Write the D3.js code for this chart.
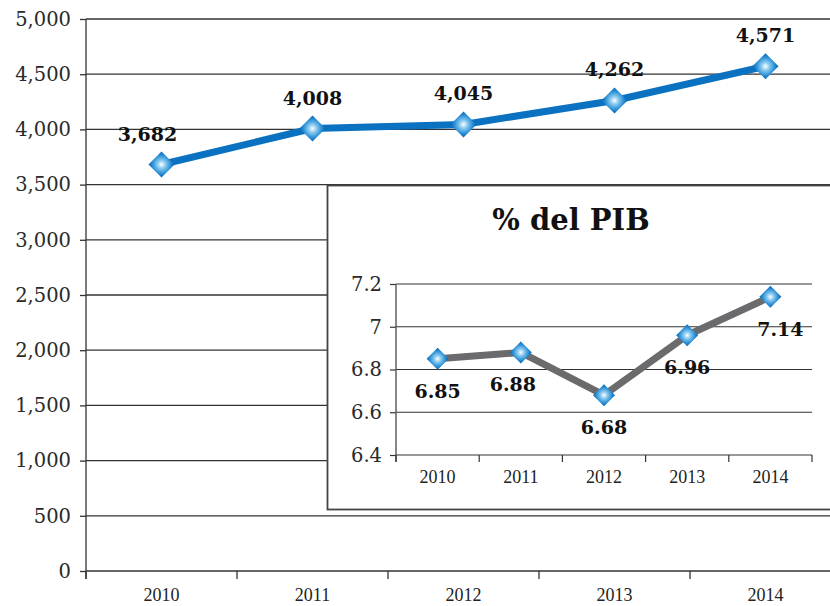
<!DOCTYPE html>
<html>
<head>
<meta charset="utf-8">
<script src="https://cdn.jsdelivr.net/npm/d3@7"></script>
<style>
  body { margin: 0; background: #fff; }
  svg { display: block; }
</style>
</head>
<body>
<div id="chart"></div>
<script>
// values
const years = ['2010', '2011', '2012', '2013', '2014'];
const amounts = [3682, 4008, 4045, 4262, 4571];
const pib = [6.85, 6.88, 6.68, 6.96, 7.14];
const mainTicks = [0, 500, 1000, 1500, 2000, 2500, 3000, 3500, 4000, 4500, 5000];
const insetTicks = [6.4, 6.6, 6.8, 7, 7.2];
const insetTitle = '% del PIB';

const width = 830, height = 606;
const serif = '"DejaVu Serif", "Liberation Serif", serif';
const timesish = '"Liberation Serif", serif';

const svg = d3.select('#chart').append('svg')
  .attr('width', width)
  .attr('height', height);

// gradient used for the diamond markers
const grad = svg.append('defs').append('radialGradient')
  .attr('id', 'gem')
  .attr('cx', '50%').attr('cy', '50%').attr('r', '50%');
grad.append('stop').attr('offset', '0%').attr('stop-color', '#ffffff');
grad.append('stop').attr('offset', '30%').attr('stop-color', '#8ccbf0');
grad.append('stop').attr('offset', '70%').attr('stop-color', '#2a8fd6');
grad.append('stop').attr('offset', '100%').attr('stop-color', '#0a63b0');

function diamond(r) {
  return `M0,${-r}L${r},0L0,${r}L${-r},0Z`;
}

// ---------- main chart ----------
const x = d3.scaleBand().domain(years).range([86, 841]);
const y = d3.scaleLinear().domain([0, 5000]).range([571, 19]);

const main = svg.append('g');

// gridlines
main.selectAll('line.grid')
  .data(mainTicks)
  .enter().append('line')
  .attr('x1', 86).attr('x2', width)
  .attr('y1', d => y(d)).attr('y2', d => y(d))
  .attr('stroke', '#333').attr('stroke-width', 1.3);

// y axis
const yAxis = main.append('g')
  .attr('transform', 'translate(86,0)')
  .call(d3.axisLeft(y).tickValues(mainTicks).tickFormat(d3.format(',')).tickSize(6).tickPadding(9));
yAxis.select('.domain').remove();
yAxis.selectAll('line').attr('stroke', '#333').attr('stroke-width', 1.3);
yAxis.selectAll('text')
  .attr('font-family', serif).attr('font-size', 19.5).attr('fill', '#2a2a2a');

main.append('line')
  .attr('x1', 86).attr('x2', 86).attr('y1', 19).attr('y2', 579)
  .attr('stroke', '#333').attr('stroke-width', 1.3);

// x axis ticks at band boundaries
main.selectAll('line.xtick')
  .data(years)
  .enter().append('line')
  .attr('x1', d => x(d)).attr('x2', d => x(d))
  .attr('y1', 571).attr('y2', 579)
  .attr('stroke', '#333').attr('stroke-width', 1.3);

main.selectAll('text.xlab')
  .data(years)
  .enter().append('text')
  .attr('x', d => x(d) + x.bandwidth() / 2)
  .attr('y', 601)
  .attr('text-anchor', 'middle')
  .attr('font-family', timesish).attr('font-size', 18).attr('fill', '#222')
  .text(d => d);

const mainLine = d3.line()
  .x((d, i) => x(years[i]) + x.bandwidth() / 2)
  .y(d => y(d));

main.append('path')
  .datum(amounts)
  .attr('d', mainLine)
  .attr('fill', 'none')
  .attr('stroke', '#0a72c0')
  .attr('stroke-width', 7)
  .attr('stroke-linejoin', 'round');

main.selectAll('path.mk')
  .data(amounts)
  .enter().append('path')
  .attr('d', diamond(13))
  .attr('transform', (d, i) => `translate(${x(years[i]) + x.bandwidth() / 2},${y(d)})`)
  .attr('fill', 'url(#gem)');

main.selectAll('text.val')
  .data(amounts)
  .enter().append('text')
  .attr('x', (d, i) => x(years[i]) + x.bandwidth() / 2 - (i === 0 ? 14 : 0))
  .attr('y', d => y(d) - 24)
  .attr('text-anchor', 'middle')
  .attr('font-family', serif).attr('font-weight', 'bold').attr('font-size', 19).attr('fill', '#111')
  .text(d => d3.format(',')(d));

// ---------- inset chart ----------
const inset = svg.append('g');

inset.append('rect')
  .attr('x', 327.5).attr('y', 185.5)
  .attr('width', 520).attr('height', 324)
  .attr('fill', '#fff')
  .attr('stroke', '#444').attr('stroke-width', 1.8);

inset.append('text')
  .attr('x', 571).attr('y', 230)
  .attr('text-anchor', 'middle')
  .attr('font-family', serif).attr('font-weight', 'bold').attr('font-size', 29).attr('fill', '#111')
  .text(insetTitle);

const xi = d3.scaleBand().domain(years).range([396, 812]);
const yi = d3.scaleLinear().domain([6.4, 7.2]).range([455, 284]);

inset.selectAll('line.grid')
  .data(insetTicks)
  .enter().append('line')
  .attr('x1', 396).attr('x2', 812)
  .attr('y1', d => yi(d)).attr('y2', d => yi(d))
  .attr('stroke', '#333').attr('stroke-width', 1.2);

const yiAxis = inset.append('g')
  .attr('transform', 'translate(396,0)')
  .call(d3.axisLeft(yi).tickValues(insetTicks).tickFormat(d3.format('')).tickSize(6).tickPadding(8));
yiAxis.select('.domain').remove();
yiAxis.selectAll('line').attr('stroke', '#333').attr('stroke-width', 1.2);
yiAxis.selectAll('text')
  .attr('font-family', serif).attr('font-size', 19.5).attr('fill', '#2a2a2a');

inset.append('line')
  .attr('x1', 396).attr('x2', 396).attr('y1', 284).attr('y2', 462)
  .attr('stroke', '#555').attr('stroke-width', 1.4);

inset.selectAll('line.xtick')
  .data(years.concat(['end']))
  .enter().append('line')
  .attr('x1', (d, i) => 396 + i * xi.bandwidth()).attr('x2', (d, i) => 396 + i * xi.bandwidth())
  .attr('y1', 455).attr('y2', 462)
  .attr('stroke', '#333').attr('stroke-width', 1.2);

inset.selectAll('text.xlab')
  .data(years)
  .enter().append('text')
  .attr('x', d => xi(d) + xi.bandwidth() / 2)
  .attr('y', 483)
  .attr('text-anchor', 'middle')
  .attr('font-family', timesish).attr('font-size', 18).attr('fill', '#222')
  .text(d => d);

const insetLine = d3.line()
  .x((d, i) => xi(years[i]) + xi.bandwidth() / 2)
  .y(d => yi(d));

inset.append('path')
  .datum(pib)
  .attr('d', insetLine)
  .attr('fill', 'none')
  .attr('stroke', '#6b6b6e')
  .attr('stroke-width', 7)
  .attr('stroke-linejoin', 'round');

inset.selectAll('path.mk')
  .data(pib)
  .enter().append('path')
  .attr('d', diamond(11))
  .attr('transform', (d, i) => `translate(${xi(years[i]) + xi.bandwidth() / 2},${yi(d)})`)
  .attr('fill', 'url(#gem)');

inset.selectAll('text.val')
  .data(pib)
  .enter().append('text')
  .attr('x', (d, i) => xi(years[i]) + xi.bandwidth() / 2 + [0, -8, 0, 0, 10][i])
  .attr('y', d => yi(d) + 39)
  .attr('text-anchor', 'middle')
  .attr('font-family', serif).attr('font-weight', 'bold').attr('font-size', 19).attr('fill', '#111')
  .text(d => d3.format('.2f')(d));
</script>
</body>
</html>
